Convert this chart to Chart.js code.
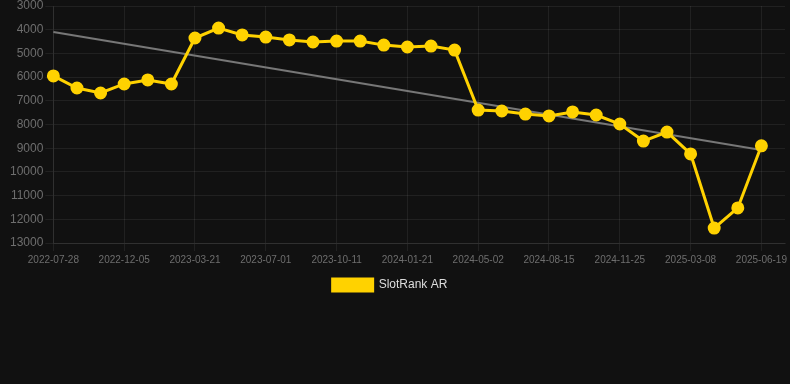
<!DOCTYPE html>
<html lang="en">

<head>
    <meta charset="UTF-8">
    <title>SlotRank AR</title>
    <script src="https://cdn.jsdelivr.net/npm/chart.js@4.4.1/dist/chart.umd.min.js"></script>
    <style>
        body { margin: 0; background: #111111; overflow: hidden; }
        #wrap { width: 790px; height: 301px; }
    </style>
</head>

<body>
    <div id="wrap"><canvas id="rankChart"></canvas></div>

    <script>
        const dates = [
            '2022-07-28', '2022-09-10', '2022-10-23', '2022-12-05', '2023-01-09', '2023-02-14',
            '2023-03-21', '2023-04-24', '2023-05-28', '2023-07-01', '2023-08-04', '2023-09-07',
            '2023-10-11', '2023-11-14', '2023-12-18', '2024-01-21', '2024-02-24', '2024-03-29',
            '2024-05-02', '2024-06-06', '2024-07-11', '2024-08-15', '2024-09-18', '2024-10-22',
            '2024-11-25', '2024-12-29', '2025-02-02', '2025-03-08', '2025-04-11', '2025-05-15',
            '2025-06-19', '2025-07-23'
        ];
        const ranks = [
            5950, 6460, 6670, 6290, 6120, 6290, 4350, 3930, 4220, 4310, 4430, 4520,
            4480, 4480, 4650, 4730, 4690, 4860, 7390, 7430, 7560, 7640, 7470, 7600,
            7980, 8700, 8320, 9240, 12370, 11520, 8900, null
        ];
        // trend line end points
        const trendStart = 4100;
        const trendEnd = 9080;
        const yTicks = [3000, 4000, 5000, 6000, 7000, 8000, 9000, 10000, 11000, 12000, 13000];

        const gridColor = 'rgba(255,255,255,0.07)';
        const tickColor = '#6e6e6e';
        const font = 'Liberation Sans, Arial, sans-serif';

        // nudge legend a little left, as in the original
        const legendShift = {
            id: 'legendShift',
            afterLayout(chart) {
                chart.legend.left -= 9;
                chart.legend.right -= 9;
            }
        };

        new Chart(document.getElementById('rankChart'), {
            type: 'line',
            data: {
                labels: dates,
                datasets: [{
                    label: 'SlotRank AR',
                    data: ranks,
                    borderColor: '#FFD200',
                    backgroundColor: '#FFD200',
                    borderWidth: 3,
                    pointRadius: 5,
                    pointHoverRadius: 6,
                    tension: 0,
                    fill: false,
                    clip: false
                }, {
                    label: 'trend',
                    data: [
                        { x: dates[0], y: trendStart },
                        { x: dates[30], y: trendEnd }
                    ],
                    borderColor: '#777',
                    borderWidth: 2,
                    pointRadius: 0,
                    fill: false
                }]
            },
            plugins: [legendShift],
            options: {
                responsive: true,
                maintainAspectRatio: false,
                animation: false,
                layout: { autoPadding: false, padding: { left: 8, right: 0, top: 0, bottom: 0 } },
                plugins: {
                    legend: {
                        position: 'bottom',
                        labels: {
                            color: '#ddd',
                            font: { family: font, size: 12 },
                            boxWidth: 40,
                            boxHeight: 12,
                            filter: item => item.datasetIndex === 0
                        }
                    },
                    tooltip: { enabled: false }
                },
                scales: {
                    x: {
                        afterFit: s => { s.paddingRight = 5; },
                        grid: {
                            color: ctx => ctx.index % 3 === 0 ? gridColor : 'transparent',
                            tickLength: 8
                        },
                        border: { color: gridColor },
                        ticks: {
                            autoSkip: false,
                            maxRotation: 0,
                            color: tickColor,
                            font: { family: font, size: 10 },
                            callback: function (val, index) {
                                return index % 3 === 0 ? dates[index] : '';
                            }
                        }
                    },
                    y: {
                        reverse: true,
                        min: yTicks[0],
                        max: yTicks[yTicks.length - 1],
                        afterFit: s => { s.paddingTop = 6; },
                        grid: { color: gridColor, tickLength: 8 },
                        border: { color: gridColor },
                        afterBuildTicks: axis => { axis.ticks = yTicks.map(v => ({ value: v })); },
                        ticks: {
                            color: tickColor,
                            padding: 2,
                            font: { family: font, size: 12 },
                            callback: v => String(v)
                        }
                    }
                }
            }
        });
    </script>
</body>

</html>
